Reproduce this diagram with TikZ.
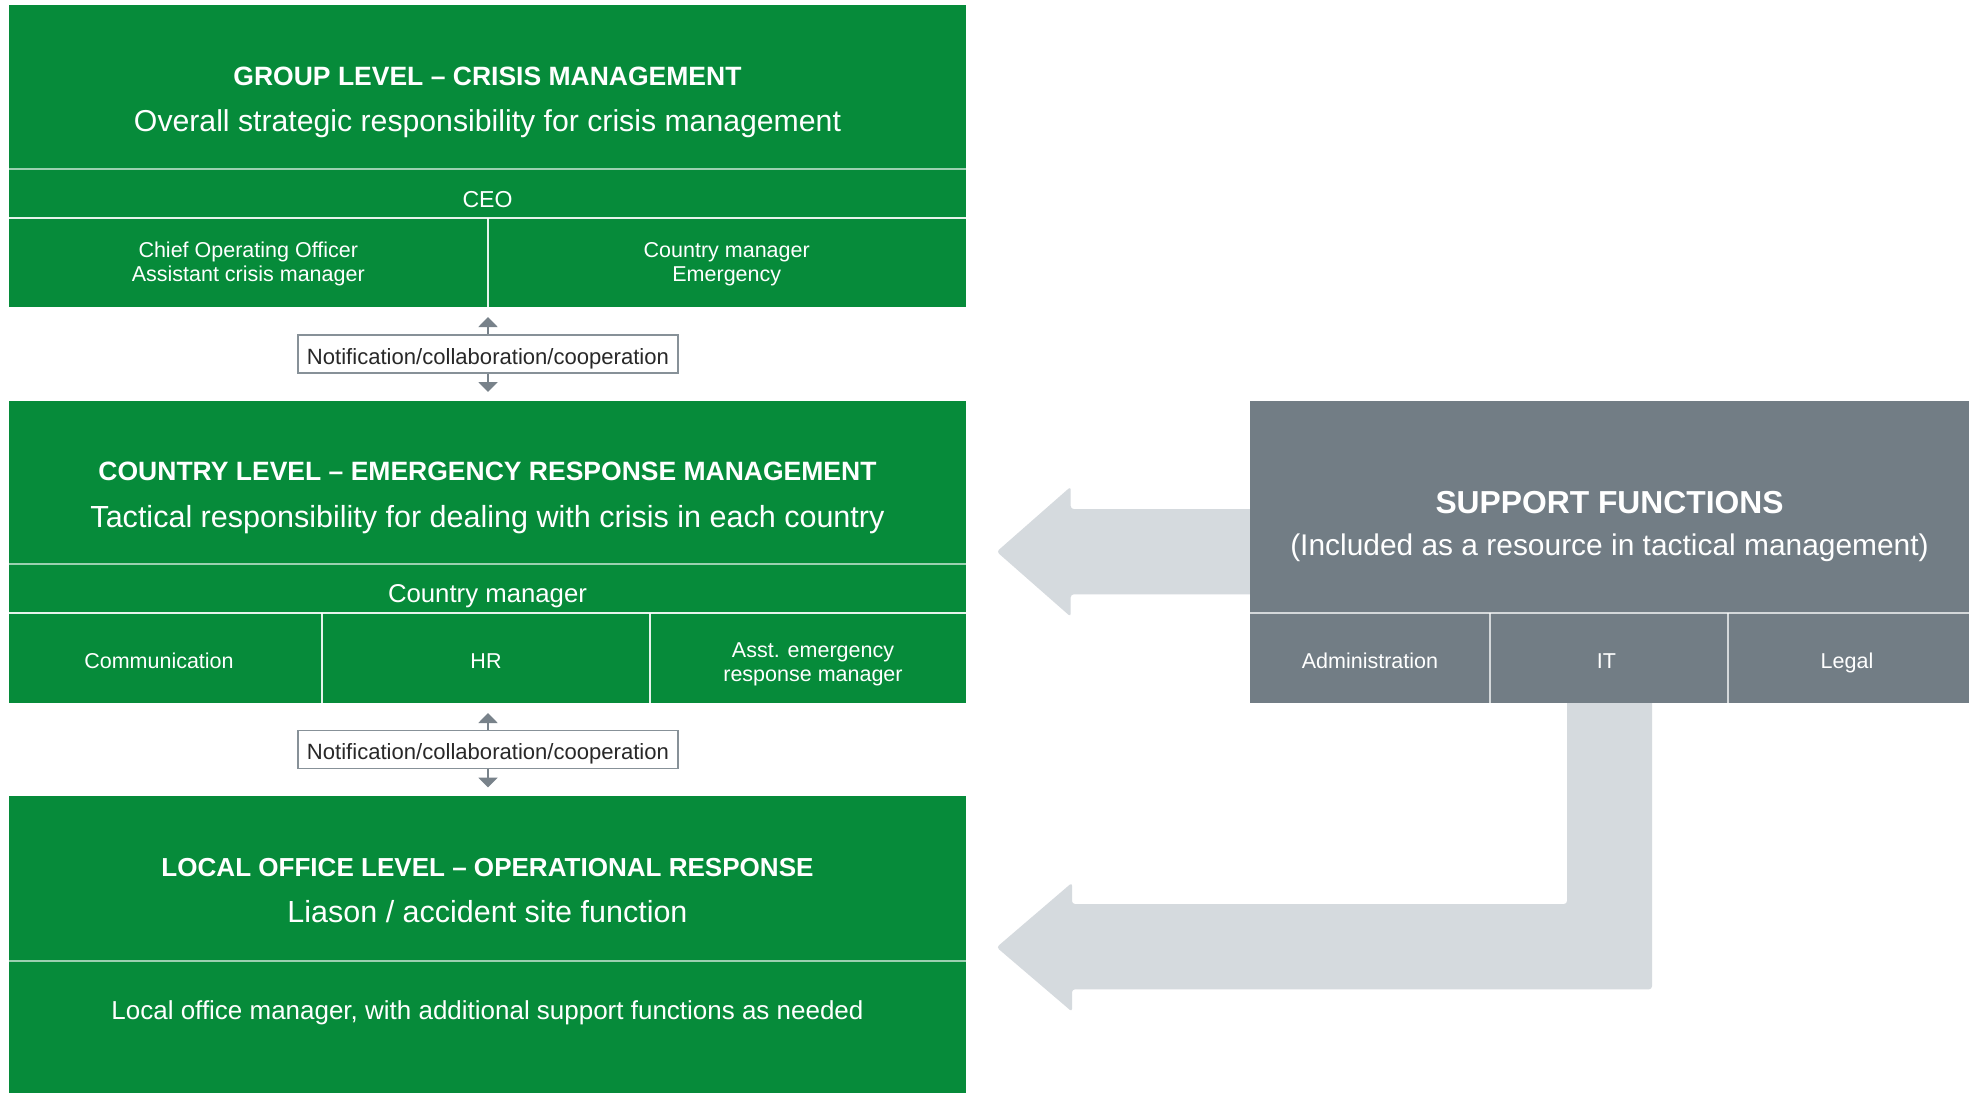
\documentclass[tikz,border=0pt]{standalone}
\usepackage{fontspec}
\setmainfont{Liberation Sans}
\usetikzlibrary{arrows.meta,calc}
\definecolor{grn}{RGB}{6,139,58}
\definecolor{sgray}{RGB}{114,125,133}
\definecolor{lgray}{RGB}{213,218,222}
\definecolor{agray}{RGB}{120,130,138}
\definecolor{bgray}{RGB}{135,145,152}
\definecolor{dtext}{RGB}{40,40,40}
\newcommand{\fw}[2]{\resizebox{#1}{!}{#2}}
\begin{document}
\begin{tikzpicture}[x=0.5pt,y=-0.5pt,
  box/.style={anchor=north west, inner sep=0pt, outer sep=0pt},
  gbox/.style={box, fill=grn},
  sbox/.style={box, fill=sgray},
  ttl/.style={anchor=base, inner sep=0pt, text=white, font=\bfseries},
  sub/.style={anchor=base, inner sep=0pt, text=white},
  small/.style={inner sep=0pt, text=white, align=center, font=\fontsize{10.75pt}{12.2pt}\selectfont},
  divA/.style={white, opacity=0.6, line width=1pt},
  divB/.style={white, opacity=0.9, line width=1pt},
  divS/.style={white, opacity=0.7, line width=1pt},
  note/.style={draw=bgray, line width=0.75pt, fill=white, minimum width=190pt, minimum height=19pt, inner sep=0pt, text=dtext, text height=10pt, text depth=0pt},
  notearr/.style={draw=agray, line width=1pt, -{Triangle[width=9.5pt,length=5pt]}},
  blockarrow/.style={fill=lgray, rounded corners=1.5pt},
]
\useasboundingbox (0,0) rectangle (1975,1093);
\fill[white] (0,0) rectangle (1975,1093);

% block arrows from support functions
\fill[blockarrow] (1260,509) -- (1070.7,509) -- (1070.7,486.7) -- (996.7,551.7) -- (1070.7,616.7) -- (1070.7,594.3) -- (1260,594.3) -- cycle;
\fill[blockarrow] (1567,690) -- (1567,904) -- (1072,904) -- (1072,882.7) -- (996.6,947.3) -- (1072,1011.7) -- (1072,989.3) -- (1652,989.3) -- (1652,690) -- cycle;

% boxes
\node[gbox, minimum width=478.5pt, minimum height=151pt] (g1) at (9,5) {};
\node[gbox, minimum width=478.5pt, minimum height=151.25pt] (g2) at (9,400.5) {};
\node[gbox, minimum width=478.5pt, minimum height=148.5pt] (g3) at (9,796) {};
\node[sbox, minimum width=359.5pt, minimum height=151.25pt] (sup) at (1250,400.5) {};

% dividers
\draw[divA] (9,169) -- (966,169);
\draw[divB] (9,218) -- (966,218);
\draw[divB] (487.5,218) -- (487.5,307);
\draw[divA] (9,564) -- (966,564);
\draw[divB] (9,613) -- (966,613);
\draw[divB] (322,613) -- (322,703);
\draw[divB] (650,613) -- (650,703);
\draw[divA] (9,961) -- (966,961);
\draw[divS] (1250,613) -- (1969,613);
\draw[divS] (1490,613) -- (1490,703);
\draw[divS] (1728,613) -- (1728,703);

% group level
\node[ttl] (t1) at (487.5,85) {\fw{254pt}{GROUP LEVEL – CRISIS MANAGEMENT}};
\node[sub] (s1) at (487.5,131.5) {\fw{353.5pt}{Overall strategic responsibility for crisis management}};
\node[sub] (ceo) at (487.5,207) {\fw{25pt}{CEO}};
\node[small] (coo) at (248.25,264) {Chief Operating Officer\\Assistant crisis manager};
\node[small] (cme) at (726.75,264) {Country manager\\Emergency};

% notification 1
\node[note] (n1) at (488,354) {\fw{181pt}{Notification/collaboration/cooperation}};
\draw[notearr, shorten >=5pt] (n1.north) -- (n1.north |- g1.south);
\draw[notearr, shorten >=4.25pt] (n1.south) -- (n1.south |- g2.north);

% country level
\node[ttl] (t2) at (487.5,480.5) {\fw{389pt}{COUNTRY LEVEL – EMERGENCY RESPONSE MANAGEMENT}};
\node[sub] (s2) at (487.5,527) {\fw{397pt}{Tactical responsibility for dealing with crisis in each country}};
\node[sub] (cm2) at (487.5,602.5) {\fw{99.5pt}{Country manager}};
\node[small, anchor=base] (comm) at (159,668) {Communication};
\node[small, anchor=base] (hr) at (486,668) {HR};
\node[small] (asst) at (813,664.5) {Asst. emergency\\response manager};

% notification 2
\node[note] (n2) at (488,749.5) {\fw{181pt}{Notification/collaboration/cooperation}};
\draw[notearr, shorten >=5pt] (n2.north) -- (n2.north |- g2.south);
\draw[notearr, shorten >=4.25pt] (n2.south) -- (n2.south |- g3.north);

% local office level
\node[ttl] (t3) at (487.5,876) {\fw{326pt}{LOCAL OFFICE LEVEL – OPERATIONAL RESPONSE}};
\node[sub] (s3) at (487.5,922.5) {\fw{200pt}{Liason / accident site function}};
\node[sub] (lom) at (487.5,1019) {\fw{376pt}{Local office manager, with additional support functions as needed}};

% support functions
\node[ttl] (st) at (1609.5,513) {\fw{174pt}{SUPPORT FUNCTIONS}};
\node[sub] (ss) at (1609.5,555) {\fw{319.25pt}{(Included as a resource in tactical management)}};
\node[small, anchor=base] (adm) at (1370,668) {Administration};
\node[small, anchor=base] (it) at (1606.5,668) {IT};
\node[small, anchor=base] (leg) at (1847,668) {Legal};
\end{tikzpicture}
\end{document}
